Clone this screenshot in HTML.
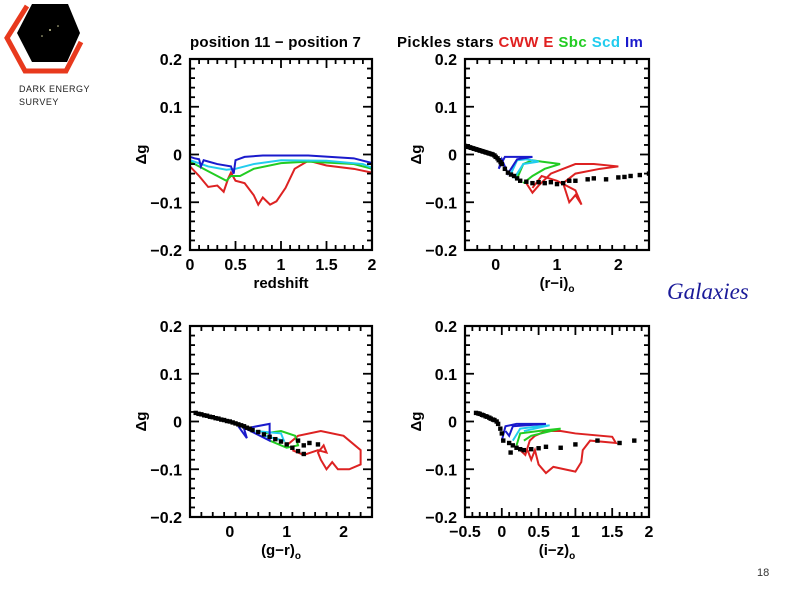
<!DOCTYPE html>
<html><head><meta charset="utf-8">
<style>
html,body{margin:0;padding:0;background:#fff;}
body{width:794px;height:595px;overflow:hidden;position:relative;font-family:"Liberation Sans",sans-serif;}
</style></head>
<body>
<svg id="chart" width="794" height="595" viewBox="0 0 794 595" xmlns="http://www.w3.org/2000/svg" style="position:absolute;left:0;top:0">
  <g>
    <polygon points="32,4 68,4 80,33 67,62 32,62 17,33" fill="#000"/>
    <circle cx="50" cy="30" r="1" fill="#cc9"/><circle cx="42" cy="36" r="0.8" fill="#cc9"/><circle cx="58" cy="26" r="0.8" fill="#cc9"/>
    <polyline points="27,6 7,38 25,71 66,71 81,42" fill="none" stroke="#e8391d" stroke-width="5"/>
    <text x="19" y="92" font-size="9" letter-spacing="0.5" fill="#222">DARK ENERGY</text>
    <text x="19" y="105" font-size="9" letter-spacing="0.5" fill="#222">SURVEY</text>
  </g>
  <text x="190" y="47" font-size="15" font-weight="bold" letter-spacing="0.2" fill="#000">position 11 − position 7</text>
  <text x="397" y="47" font-size="15" font-weight="bold" letter-spacing="0.4"><tspan fill="#000">Pickles stars </tspan><tspan fill="#e02020">CWW E </tspan><tspan fill="#22cc22">Sbc </tspan><tspan fill="#22ccee">Scd </tspan><tspan fill="#1a1acc">Im</tspan></text>
  <text x="667" y="299" font-family="Liberation Serif,serif" font-style="italic" font-size="23" fill="#1a1a99">Galaxies</text>
  <text x="757" y="576" font-size="11" fill="#333">18</text>
  <g id="plots"></g>
</svg>
<script>
// ---- data: panel A (redshift) ----
const zBlue=[[0,-0.005],[0.05,-0.008],[0.1,-0.01],[0.12,-0.025],[0.15,-0.012],[0.3,-0.02],[0.45,-0.025],[0.48,-0.04],[0.5,-0.012],[0.6,-0.005],[0.8,-0.002],[1.3,-0.002],[1.8,-0.008],[2,-0.018]];
const zCyan=[[0,-0.012],[0.2,-0.025],[0.4,-0.032],[0.5,-0.03],[0.7,-0.02],[1,-0.012],[1.5,-0.013],[1.9,-0.02],[2,-0.028]];
const zGreen=[[0,-0.015],[0.2,-0.035],[0.4,-0.055],[0.45,-0.045],[0.55,-0.045],[0.7,-0.03],[1,-0.018],[1.3,-0.015],[1.8,-0.02],[2,-0.03]];
const zRed=[[0,-0.025],[0.1,-0.045],[0.2,-0.068],[0.3,-0.065],[0.37,-0.078],[0.42,-0.05],[0.45,-0.038],[0.5,-0.055],[0.6,-0.06],[0.7,-0.085],[0.75,-0.105],[0.8,-0.09],[0.88,-0.105],[0.95,-0.098],[1.05,-0.07],[1.15,-0.03],[1.3,-0.013],[1.5,-0.023],[1.8,-0.03],[2,-0.038]];
// ---- panel B (r-i) ----
const riStars=[[-0.5,0.018],[-0.47,0.017],[-0.45,0.016],[-0.42,0.015],[-0.4,0.014],[-0.37,0.013],[-0.35,0.012],[-0.32,0.011],[-0.3,0.01],[-0.27,0.009],[-0.25,0.008],[-0.22,0.007],[-0.2,0.006],[-0.17,0.005],[-0.15,0.004],[-0.12,0.003],[-0.1,0.002],[-0.07,0.001],[-0.05,0],[-0.02,-0.002],[0,-0.005],[0.03,-0.008],[0.05,-0.012],[0.08,-0.016],[0.1,-0.02],[0.15,-0.03],[0.2,-0.038],[0.25,-0.042],[0.3,-0.045],[0.35,-0.05],[0.4,-0.055],[0.5,-0.057],[0.6,-0.06],[0.7,-0.058],[0.8,-0.06],[0.9,-0.058],[1.0,-0.062],[1.1,-0.06],[1.2,-0.055],[1.3,-0.055],[1.5,-0.052],[1.6,-0.05],[1.8,-0.052],[2.0,-0.048],[2.1,-0.047],[2.2,-0.045],[2.35,-0.043],[2.5,-0.04]];
const riBlue=[[0.05,-0.03],[0.15,-0.005],[0.3,-0.005],[0.6,-0.005],[0.35,-0.01],[0.2,-0.04],[0.1,-0.01],[0.05,-0.03]];
const riCyan=[[0.25,-0.04],[0.35,-0.012],[0.5,-0.01],[0.7,-0.015],[0.45,-0.02],[0.3,-0.05]];
const riGreen=[[0.35,-0.05],[0.45,-0.02],[0.6,-0.012],[0.75,-0.015],[1.05,-0.02],[0.8,-0.03],[0.6,-0.045],[0.45,-0.06]];
const riRed=[[0.5,-0.06],[0.6,-0.08],[0.7,-0.065],[0.9,-0.04],[1.3,-0.02],[1.6,-0.02],[2.0,-0.025],[1.7,-0.03],[1.3,-0.04],[1.1,-0.06],[1.2,-0.1],[1.3,-0.085],[1.4,-0.105],[1.3,-0.075],[1.0,-0.055],[0.75,-0.045],[0.6,-0.07]];
// ---- panel C (g-r) ----
const grStars=[[-0.6,0.018],[-0.55,0.016],[-0.5,0.015],[-0.45,0.013],[-0.4,0.012],[-0.35,0.01],[-0.3,0.009],[-0.25,0.007],[-0.2,0.006],[-0.15,0.004],[-0.1,0.003],[-0.05,0.001],[0,0],[0.05,-0.002],[0.1,-0.004],[0.15,-0.006],[0.2,-0.008],[0.25,-0.01],[0.3,-0.013],[0.35,-0.015],[0.4,-0.018],[0.5,-0.022],[0.6,-0.027],[0.7,-0.032],[0.8,-0.037],[0.9,-0.042],[1.0,-0.048],[1.1,-0.055],[1.2,-0.062],[1.3,-0.068],[1.2,-0.04],[1.3,-0.05],[1.4,-0.045],[1.55,-0.048]];
const grBlue=[[0.15,-0.01],[0.3,-0.035],[0.25,-0.015],[0.7,-0.005],[0.7,-0.04],[0.2,-0.01]];
const grCyan=[[0.45,-0.02],[0.9,-0.025],[0.95,-0.04],[0.6,-0.03]];
const grGreen=[[0.6,-0.025],[0.9,-0.02],[1.15,-0.03],[1.2,-0.05],[1.0,-0.055],[0.7,-0.04]];
const grRed=[[1.0,-0.05],[1.2,-0.03],[1.6,-0.02],[2.0,-0.03],[2.3,-0.06],[2.3,-0.09],[2.1,-0.1],[1.9,-0.1],[1.8,-0.085],[1.7,-0.1],[1.6,-0.08],[1.55,-0.065],[1.65,-0.05],[1.7,-0.065],[1.55,-0.06],[1.3,-0.07],[1.1,-0.06]];
// ---- panel D (i-z) ----
const izStars=[[-0.35,0.018],[-0.32,0.017],[-0.3,0.016],[-0.27,0.014],[-0.25,0.013],[-0.22,0.011],[-0.2,0.01],[-0.17,0.008],[-0.15,0.006],[-0.12,0.004],[-0.1,0.003],[-0.07,0],[-0.05,-0.005],[-0.02,-0.015],[0,-0.025],[0.02,-0.04],[0.1,-0.045],[0.15,-0.05],[0.2,-0.055],[0.25,-0.058],[0.3,-0.06],[0.4,-0.058],[0.5,-0.056],[0.6,-0.053],[0.8,-0.055],[1.0,-0.048],[1.3,-0.04],[1.6,-0.045],[1.8,-0.04],[0.12,-0.065]];
const izBlue=[[0.0,-0.04],[0.05,-0.01],[0.2,-0.005],[0.6,-0.005],[0.15,-0.01],[0.1,-0.03],[0.05,-0.02]];
const izCyan=[[0.15,-0.04],[0.25,-0.015],[0.5,-0.01],[0.65,-0.008],[0.3,-0.02]];
const izGreen=[[0.2,-0.05],[0.25,-0.025],[0.5,-0.02],[0.8,-0.015],[0.4,-0.03],[0.3,-0.04]];
const izRed=[[0.25,-0.06],[0.32,-0.07],[0.38,-0.04],[0.45,-0.03],[0.6,-0.02],[0.8,-0.02],[1.0,-0.025],[1.5,-0.032],[1.55,-0.045],[1.2,-0.04],[1.1,-0.06],[1.08,-0.085],[1.0,-0.105],[0.85,-0.1],[0.7,-0.095],[0.6,-0.108],[0.5,-0.09],[0.45,-0.06],[0.4,-0.08],[0.35,-0.06]];

const NS='http://www.w3.org/2000/svg';
const root=document.getElementById('plots');
function mk(tag,attrs,parent){const e=document.createElementNS(NS,tag);for(const k in attrs)e.setAttribute(k,attrs[k]);parent.appendChild(e);return e;}
const COL={red:'#dd2222',green:'#22cc22',cyan:'#22ccee',blue:'#1a1acc'};

function panel(name,box,xmin,xmax,xMajor,xMinor,xLabels,xTitle,sub,stars,series){
  const g=mk('g',{},root);
  
  
  const [L,T,R,B]=box;
  const sx=v=>L+(v-xmin)/(xmax-xmin)*(R-L);
  const sy=v=>B-(v+0.2)/0.4*(B-T);
  const clip='c'+name;
  const cp=mk('clipPath',{id:clip},g);mk('rect',{x:L,y:T,width:R-L,height:B-T},cp);
  const pg=mk('g',{'clip-path':'url(#'+clip+')'},g);
  series.forEach(([arr,c,nm])=>{
    const p=mk('polyline',{points:arr.map(d=>sx(d[0])+','+sy(d[1])).join(' '),fill:'none',stroke:COL[c],'stroke-width':2},pg);
    
    
  });
  if(stars){stars.forEach(d=>{
    const r=mk('rect',{x:sx(d[0])-2.2,y:sy(d[1])-2.2,width:4.4,height:4.4,fill:'#000'},pg);
    
    
  });}
  mk('rect',{x:L,y:T,width:R-L,height:B-T,fill:'none',stroke:'#000','stroke-width':2.2},g);
  const tk=mk('g',{stroke:'#000','stroke-width':1.8},g);
  const n=Math.round((xmax-xmin)/xMinor);
  for(let i=0;i<=n;i++){const v=xmin+i*xMinor;const x=sx(v);
    const maj=Math.abs(v/xMajor-Math.round(v/xMajor))<1e-6;const len=maj?9:5;
    mk('line',{x1:x,y1:B,x2:x,y2:B-len},tk);mk('line',{x1:x,y1:T,x2:x,y2:T+len},tk);}
  for(let i=0;i<=20;i++){const v=-0.2+i*0.02;const y=sy(v);const len=(i%5===0)?9:5;
    mk('line',{x1:L,y1:y,x2:L+len,y2:y},tk);mk('line',{x1:R,y1:y,x2:R-len,y2:y},tk);}
  xLabels.forEach(([v,t])=>{const e=mk('text',{x:sx(v),y:B+20,'font-size':16,'font-weight':'bold','text-anchor':'middle'},g);e.textContent=t;
    
    });
  [[0.2,'0.2'],[0.1,'0.1'],[0,'0'],[-0.1,'−0.1'],[-0.2,'−0.2']].forEach(([v,t])=>{const e=mk('text',{x:L-8,y:sy(v)+6,'font-size':16,'font-weight':'bold','text-anchor':'end'},g);e.textContent=t;
    
    });
  const yt=mk('text',{x:0,y:0,'font-size':15,'font-weight':'bold','text-anchor':'middle',transform:'translate('+(L-44)+','+sy(0)+') rotate(-90)'},g);
  yt.textContent='Δg';
  
  
  const xt=mk('text',{x:(L+R)/2,y:B+38,'font-size':15,'font-weight':'bold','text-anchor':'middle'},g);
  xt.textContent=xTitle;
  if(sub){const s=mk('tspan',{'font-size':10,dy:4},xt);s.textContent=sub;}
  
  
}
panel('panel-redshift',[190,59,372,250],0,2,0.5,0.1,[[0,'0'],[0.5,'0.5'],[1,'1'],[1.5,'1.5'],[2,'2']],'redshift',null,null,
  [[zRed,'red','cww-e-curve'],[zGreen,'green','sbc-curve'],[zCyan,'cyan','scd-curve'],[zBlue,'blue','im-curve']]);
panel('panel-r-i',[465,59,649,250],-0.5,2.5,1,0.2,[[0,'0'],[1,'1'],[2,'2']],'(r−i)','o',riStars,
  [[riRed,'red','cww-e-curve'],[riGreen,'green','sbc-curve'],[riCyan,'cyan','scd-curve'],[riBlue,'blue','im-curve']]);
panel('panel-g-r',[190,326,372,517],-0.7,2.5,1,0.2,[[0,'0'],[1,'1'],[2,'2']],'(g−r)','o',grStars,
  [[grRed,'red','cww-e-curve'],[grGreen,'green','sbc-curve'],[grCyan,'cyan','scd-curve'],[grBlue,'blue','im-curve']]);
panel('panel-i-z',[465,326,649,517],-0.5,2,0.5,0.1,[[-0.5,'−0.5'],[0,'0'],[0.5,'0.5'],[1,'1'],[1.5,'1.5'],[2,'2']],'(i−z)','o',izStars,
  [[izRed,'red','cww-e-curve'],[izGreen,'green','sbc-curve'],[izCyan,'cyan','scd-curve'],[izBlue,'blue','im-curve']]);
</script>
</body></html>
